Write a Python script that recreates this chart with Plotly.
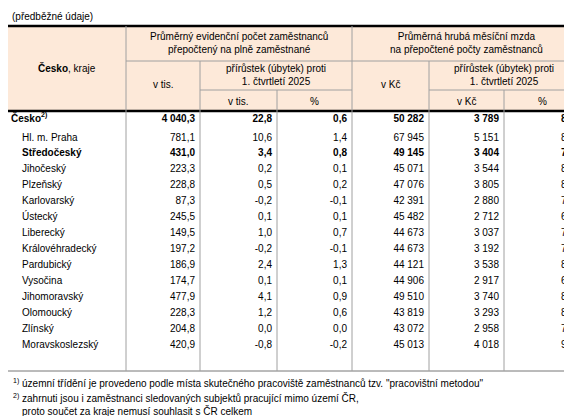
import plotly.graph_objects as go

regions = ["Česko<sup>2)</sup>", "Hl. m. Praha", "Středočeský", "Jihočeský", "Plzeňský", "Karlovarský",
           "Ústecký", "Liberecký", "Královéhradecký", "Pardubický", "Vysočina", "Jihomoravský",
           "Olomoucký", "Zlínský", "Moravskoslezský"]
emp = ["4 040,3", "781,1", "431,0", "223,3", "228,8", "87,3", "245,5", "149,5", "197,2", "186,9",
       "174,7", "477,9", "228,3", "204,8", "420,9"]
emp_d = ["22,8", "10,6", "3,4", "0,2", "0,5", "-0,2", "0,1", "1,0", "-0,2", "2,4", "0,1", "4,1",
         "1,2", "0,0", "-0,8"]
emp_p = ["0,6", "1,4", "0,8", "0,1", "0,2", "-0,1", "0,1", "0,7", "-0,1", "1,3", "0,1", "0,9",
         "0,6", "0,0", "-0,2"]
wage = ["50 282", "67 945", "49 145", "45 071", "47 076", "42 391", "45 482", "44 673", "44 673",
        "44 121", "44 906", "49 510", "43 819", "43 072", "45 013"]
wage_d = ["3 789", "5 151", "3 404", "3 544", "3 805", "2 880", "2 712", "3 037", "3 192", "3 538",
          "2 917", "3 740", "3 293", "2 958", "4 018"]
wage_p = ["8,1", "8,2", "7,4", "8,5", "8,8", "7,3", "6,3", "7,3", "7,7", "8,7", "6,9", "8,2",
          "8,1", "7,4", "9,8"]
bold_rows = [0, 2]

W, H = 572, 416
cols = [0, 118, 192, 269, 344, 421, 496, 572]
font = dict(family="Liberation Sans, Arial", size=10, color="black")
line_c = "#a0a0a0"

fig = go.Figure()
shapes = []
ys = [111] + [130 + 15.93 * i for i in range(14)]

def b(s, i):
    return f"<b>{s}</b>" if i in bold_rows else s

names = [b(r, i) for i, r in enumerate(regions)]
xs = [3 if i == 0 else 14 for i in range(len(regions))]
fig.add_trace(go.Scatter(x=xs, y=ys, text=names, mode="text", textposition="middle right",
                         textfont=font, hoverinfo="skip"))
for k, col in enumerate([emp, emp_d, emp_p, wage, wage_d, wage_p]):
    xr = cols[k + 2] - 5
    fig.add_trace(go.Scatter(x=[xr] * len(col), y=ys, text=[b(v, i) for i, v in enumerate(col)],
                             mode="text", textposition="middle left", textfont=font, hoverinfo="skip"))

top, r1, r2, hb, bottom = 18, 53, 82, 103, 363
shapes.append(dict(type="rect", x0=0, x1=W, y0=top, y1=hb, fillcolor="#fde9d9", line_width=0, layer="below"))

def ln(x0, y0, x1, y1, w=1, c=line_c):
    shapes.append(dict(type="line", x0=x0, x1=x1, y0=y0, y1=y1, line=dict(color=c, width=w)))

ln(0, top, W, top, 2.5, "black")
ln(0, hb, W, hb, 2.5, "black")
ln(0, bottom, W, bottom, 1, "#777")
ln(cols[1], r1, W, r1)
ln(cols[2], r2, cols[4], r2)
ln(cols[5], r2, W, r2)
starts = {118: top, 192: r1, 269: r2, 344: top, 421: r1, 496: r2}
for x in cols[1:-1]:
    ln(x, starts[x], x, bottom)

ann = []
def t(x, y, s, xa="center"):
    ann.append(dict(x=x, y=y, text=s, showarrow=False, xanchor=xa, yanchor="middle", font=font, align="center"))

t(2, 8, "(předběžné údaje)", "left")
t(59, 60, "<b>Česko</b>, kraje")
t(231, 35, "Průměrný evidenční počet zaměstnanců<br>přepočtený na plně zaměstnané")
t(458, 35, "Průměrná hrubá měsíční mzda<br>na přepočtené počty zaměstnanců")
t(155, 76, "v tis.")
t(268, 67, "přírůstek (úbytek) proti<br>1. čtvrtletí 2025")
t(230, 93, "v tis.")
t(306, 93, "%")
t(382, 76, "v Kč")
t(496, 67, "přírůstek (úbytek) proti<br>1. čtvrtletí 2025")
t(458, 93, "v Kč")
t(534, 93, "%")
t(3, 375, "<sup>1)</sup> územní třídění je provedeno podle místa skutečného pracoviště zaměstnanců tzv. \"pracovištní metodou\"", "left")
t(3, 390, "<sup>2)</sup> zahrnuti jsou i zaměstnanci sledovaných subjektů pracující mimo území ČR,", "left")
t(12, 403, "proto součet za kraje nemusí souhlasit s ČR celkem", "left")

fig.update_layout(width=W, height=H, margin=dict(l=0, r=0, t=0, b=0), showlegend=False,
                  plot_bgcolor="white", paper_bgcolor="white", shapes=shapes, annotations=ann,
                  xaxis=dict(range=[0, W], visible=False, fixedrange=True),
                  yaxis=dict(range=[H, 0], visible=False, fixedrange=True))
fig.write_html("out.html")
